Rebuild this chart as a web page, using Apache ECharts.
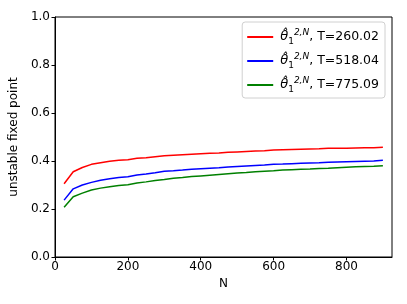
<!DOCTYPE html>
<html><head><meta charset="utf-8">
<script src="https://cdn.jsdelivr.net/npm/echarts@6/dist/echarts.min.js"></script>
<style>html,body{margin:0;padding:0;background:#fff}#c{width:407px;height:304px}</style>
</head><body><div id="c"></div>
<script>
const N = [25,50,75,100,125,150,175,200,225,250,275,300,325,350,375,400,425,450,475,500,525,550,575,600,625,650,675,700,725,750,775,800,825,850,875,900];
const red = [0.305,0.355,0.373,0.386,0.393,0.399,0.403,0.405,0.411,0.414,0.418,0.422,0.424,0.426,0.428,0.430,0.432,0.433,0.436,0.438,0.440,0.442,0.443,0.446,0.447,0.448,0.449,0.450,0.451,0.453,0.453,0.453,0.454,0.455,0.455,0.457];
const blue = [0.237,0.284,0.300,0.311,0.320,0.326,0.331,0.334,0.342,0.346,0.351,0.357,0.359,0.362,0.366,0.368,0.370,0.372,0.375,0.377,0.379,0.381,0.383,0.386,0.387,0.389,0.391,0.392,0.393,0.395,0.396,0.397,0.398,0.399,0.400,0.403];
const green = [0.207,0.251,0.266,0.279,0.287,0.293,0.298,0.301,0.308,0.313,0.319,0.323,0.328,0.331,0.335,0.338,0.341,0.344,0.347,0.350,0.352,0.355,0.357,0.359,0.362,0.364,0.366,0.367,0.369,0.370,0.372,0.374,0.376,0.377,0.378,0.380];
const Tvals = ['260.02','518.04','775.09'];
const names = ['s0','s1','s2'];
const colors = ['#ff0000','#0000ff','#008000'];
const xTicks = [0,200,400,600,800];
const yTicks = [0,0.2,0.4,0.6,0.8,1.0];

const chart = echarts.init(document.getElementById('c'), null, {renderer:'canvas'});
const font = 'DejaVu Sans';
const mk = (vals) => N.map((n,i)=>[n, vals[i]]);
const seriesData = [red, blue, green];
chart.setOption({
  animation:false,
  backgroundColor:'#fff',
  textStyle:{fontFamily:font},
  grid:{left:55, right:15, top:17, bottom:47, show:true, borderColor:'#000', borderWidth:1, containLabel:false},
  xAxis:{type:'value', min:0, max:925, interval:200, name:'N', nameLocation:'middle', nameGap:21,
    nameTextStyle:{color:'#000', fontSize:12, fontFamily:font},
    axisLine:{show:true, lineStyle:{color:'#000', width:1}},
    axisTick:{show:true, length:3.5, inside:false, lineStyle:{color:'#000'}},
    axisLabel:{color:'#000', fontSize:12, fontFamily:font, margin:4, showMaxLabel:false,
      formatter:(v)=> xTicks.indexOf(v)>=0 ? String(v) : ''},
    splitLine:{show:false}},
  yAxis:{type:'value', min:0, max:1, interval:0.2, name:'unstable fixed point', nameLocation:'middle', nameGap:25, nameRotate:90,
    nameTextStyle:{color:'#000', fontSize:12, fontFamily:font},
    axisLine:{show:true, lineStyle:{color:'#000', width:1}},
    axisTick:{show:true, length:3.5, inside:false, lineStyle:{color:'#000'}},
    axisLabel:{color:'#000', fontSize:12, fontFamily:font, margin:5,
      formatter:(v)=> v.toFixed(1)},
    splitLine:{show:false}},
  legend:{
    right:22, top:22, orient:'vertical', itemWidth:26, itemHeight:2, itemGap:2,
    padding:[4,6,2,5], backgroundColor:'rgba(255,255,255,0.85)', borderColor:'#d0d0d0', borderWidth:1, borderRadius:3,
    data:names.map(n=>({name:n, icon:'rect'})),
    formatter:(name)=>{const i=names.indexOf(name); return '{t|θ̂}{sub|1}{sup|2,N}{m|, T='+Tvals[i]+'}';},
    textStyle:{color:'#000', fontFamily:font, fontSize:12,
      rich:{
        t:{fontSize:13, fontStyle:'italic', fontFamily:font, lineHeight:22, verticalAlign:'middle', padding:[0,0,0,2]},
        sub:{fontSize:9, fontFamily:font, lineHeight:22, verticalAlign:'bottom', padding:[0,0,2,0]},
        sup:{fontSize:9, fontStyle:'italic', fontFamily:font, lineHeight:22, verticalAlign:'top', padding:[2,0,0,0]},
        m:{fontSize:12.5, fontFamily:font, lineHeight:22, verticalAlign:'middle'}
      }}
  },
  series: seriesData.map((d,i)=>({
    name:names[i], type:'line', data:mk(d), symbol:'none', showSymbol:false,
    lineStyle:{color:colors[i], width:1.5}, itemStyle:{color:colors[i]}
  }))
});
</script></body></html>
